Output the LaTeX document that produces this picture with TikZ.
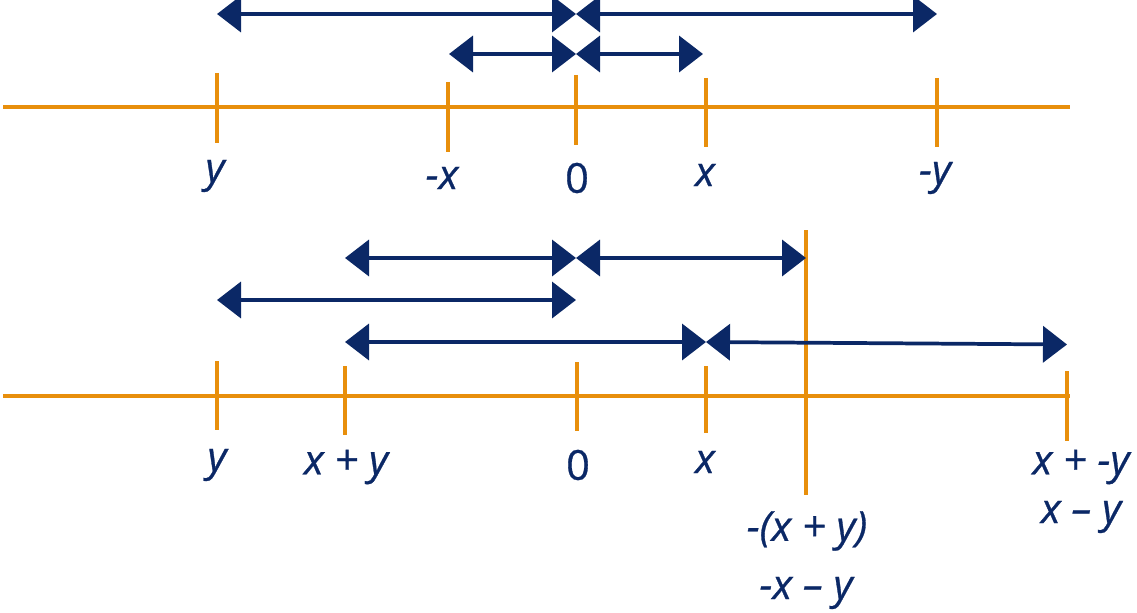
\documentclass[tikz,border=0pt]{standalone}
\usepackage{fontspec}
\setmainfont{Open Sans}[FakeBold=0.7]
\usetikzlibrary{arrows.meta}
\definecolor{navy}{RGB}{11,40,102}
\definecolor{amber}{RGB}{232,143,12}
\begin{document}
\begin{tikzpicture}[x=0.75pt,y=-0.75pt,
  axis/.style={draw=amber,line width=3pt},
  tick/.style={draw=amber,line width=3pt},
  dbl/.style={draw=navy,line width=2.8pt,{Triangle[length=18pt,width=27pt]}-{Triangle[length=18pt,width=27pt]}},
  lab/.style={text=navy,font=\fontsize{31}{36}\selectfont\itshape,inner sep=0pt,anchor=center},
  num/.style={text=navy,font=\fontsize{31}{36}\selectfont,inner sep=0pt,anchor=center}]
\useasboundingbox (0,0) rectangle (1137,613);
% top line
\coordinate (tL) at (3,107);
\coordinate (tR) at (1070,107);
\draw[axis] (tL) -- (tR);
\coordinate (ty1) at (217,73);  \coordinate (ty2) at (217,143);
\coordinate (tmx1) at (448,82); \coordinate (tmx2) at (448,152);
\coordinate (tz1) at (576,75);  \coordinate (tz2) at (576,145);
\coordinate (tx1) at (706,78);  \coordinate (tx2) at (706,147);
\coordinate (tmy1) at (937,78); \coordinate (tmy2) at (937,147);
\foreach \a in {ty,tmx,tz,tx,tmy} \draw[tick] (\a1) -- (\a2);
% top arrows
\coordinate (a1l) at (217,14); \coordinate (a1m) at (576,14); \coordinate (a1r) at (937,14);
\draw[dbl] (a1m) -- (a1l);
\draw[dbl] (a1m) -- (a1r);
\coordinate (a2l) at (449,54); \coordinate (a2m) at (576,54); \coordinate (a2r) at (703,54);
\draw[dbl] (a2m) -- (a2l);
\draw[dbl] (a2m) -- (a2r);
% top labels
\node[lab] (Ly) at (215,176) {y};
\node[lab] (Lmx) at (442,178) {-x};
\node[num] (L0) at (577,178) {0};
\node[lab] (Lx) at (705,175) {x};
\node[lab] (Lmy) at (935,178) {-y};
% bottom line
\coordinate (bL) at (3,396);
\coordinate (bR) at (1070,396);
\draw[axis] (bL) -- (bR);
\coordinate (by1) at (217,361);  \coordinate (by2) at (217,430);
\coordinate (bxy1) at (345,366); \coordinate (bxy2) at (345,435);
\coordinate (bz1) at (577,362);  \coordinate (bz2) at (577,431);
\coordinate (bx1) at (706,366);  \coordinate (bx2) at (706,433);
\coordinate (bn1) at (806,230);  \coordinate (bn2) at (806,495);
\coordinate (bd1) at (1067,371); \coordinate (bd2) at (1067,441);
\foreach \a in {by,bxy,bz,bx,bn,bd} \draw[tick] (\a1) -- (\a2);
% bottom arrows
\coordinate (b1l) at (345,258); \coordinate (b1m) at (576,258); \coordinate (b1r) at (806,258);
\draw[dbl] (b1m) -- (b1l);
\draw[dbl] (b1m) -- (b1r);
\coordinate (b2l) at (217,300); \coordinate (b2r) at (576,300);
\draw[dbl] (b2l) -- (b2r);
\coordinate (b3l) at (345,342); \coordinate (b3m) at (706,342); \coordinate (b3r) at (1067,344.5);
\draw[dbl] (b3m) -- (b3l);
\draw[dbl] (b3m) -- (b3r);
% bottom labels
\node[lab] (My) at (217,465) {y};
\node[lab] (Mxy) at (346,467) {x + y};
\node[num] (M0) at (578,465) {0};
\node[lab] (Mx) at (705,462) {x};
\node[lab] (Mn) at (807,531) {-(x + y)};
\node[lab] (Mn2) at (806,593) {-x – y};
\node[lab] (Md) at (1081,467) {x + -y};
\node[lab] (Md2) at (1081,517) {x – y};
\end{tikzpicture}
\end{document}
